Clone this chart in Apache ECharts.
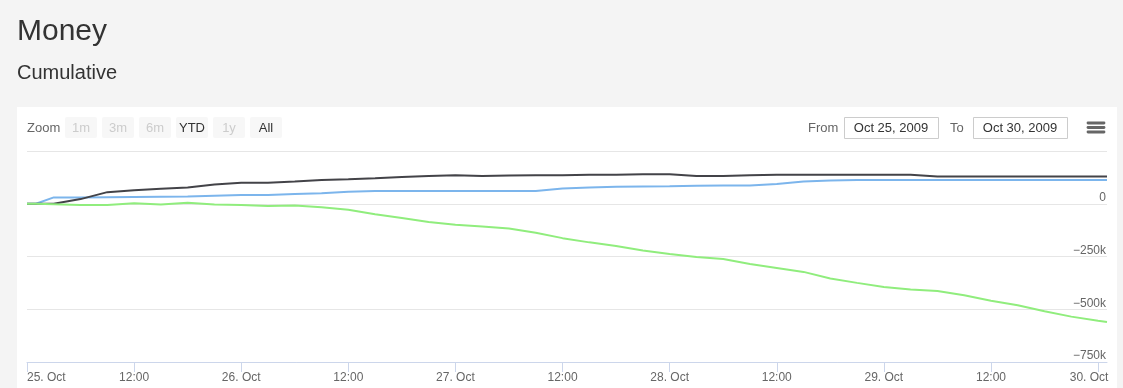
<!DOCTYPE html>
<html>
<head>
<meta charset="utf-8">
<script src="https://cdn.jsdelivr.net/npm/echarts@6/dist/echarts.min.js"></script>
<style>
html,body{margin:0;padding:0;background:#f4f4f4;}
#chart{width:1123px;height:388px;}
</style>
</head>
<body>
<div id="chart"></div>
<script>
// hours since 25 Oct 2009 00:00
const hours = [0,1,3,6,9,12,15,18,21,24,27,30,33,36,39,42,45,48,51,54,57,60,63,66,69,72,75,78,81,84,87,90,93,96,99,102,105,108,111,114,117,120,121];
const seriesBlue = [0,0,30000,30000,31000,32000,33000,34000,38000,41000,42000,46000,50000,57000,61000,60000,61000,61000,61000,61000,61000,72000,77000,80000,82000,83000,85000,86000,87000,94000,105000,110000,112000,112000,112000,112000,112000,113000,113000,113000,113000,113000,113000];
const seriesBlack = [0,0,0,22000,55000,64000,71000,77000,91000,99000,100000,105000,113000,116000,121000,127000,132000,135000,131000,134000,135000,135000,137000,138000,140000,140000,131000,132000,135000,137000,137000,137000,137000,137000,137000,129000,129000,129000,129000,129000,129000,129000,129000];
const seriesGreen = [0,0,-2000,-6000,-6000,2000,-3000,5000,-3000,-6000,-11000,-8000,-17000,-28000,-50000,-68000,-87000,-99000,-108000,-117000,-137000,-163000,-183000,-200000,-222000,-238000,-252000,-262000,-286000,-304000,-323000,-354000,-375000,-395000,-406000,-414000,-434000,-460000,-481000,-509000,-535000,-554000,-560000];
const xTickHours = [0,12,24,36,48,60,72,84,96,108,120];
const yTicks = [-750000,-500000,-250000,0,250000];
const zoomButtons = ['1m','3m','6m','YTD','1y','All'];
const zoomEnabled = [false,false,false,true,false,true];
const fromText = 'Oct 25, 2009';
const toText = 'Oct 30, 2009';

function pairs(vals){ return hours.map((h,i)=>[h, vals[i]]); }

const FONT = '"Liberation Sans", Arial, sans-serif';
const graphics = [];
graphics.push({type:'rect', z:-10, shape:{x:17,y:107,width:1100,height:290}, style:{fill:'#ffffff'}});
graphics.push({type:'text', x:17, y:32, style:{text:'Money', font:'30px '+FONT, fill:'#333333', textAlign:'left', align:'left', textVerticalAlign:'middle', verticalAlign:'middle'}});
graphics.push({type:'text', x:17, y:73, style:{text:'Cumulative', font:'20px '+FONT, fill:'#333333', textAlign:'left', align:'left', textVerticalAlign:'middle', verticalAlign:'middle'}});
graphics.push({type:'text', x:27, y:128, style:{text:'Zoom', font:'13px '+FONT, fill:'#666666', textAlign:'left', align:'left', textVerticalAlign:'middle', verticalAlign:'middle'}});
zoomButtons.forEach((b,i)=>{
  const x = 65 + i*37;
  graphics.push({type:'rect', shape:{x:x,y:117,width:32,height:21,r:2}, style:{fill:'#f7f7f7'}});
  graphics.push({type:'text', x:x+16, y:128, style:{text:b, font:'13px '+FONT, fill: zoomEnabled[i] ? '#333333' : '#cccccc', textAlign:'center', align:'center', textVerticalAlign:'middle', verticalAlign:'middle'}});
});
graphics.push({type:'text', x:808, y:128, style:{text:'From', font:'13px '+FONT, fill:'#666666', textAlign:'left', align:'left', textVerticalAlign:'middle', verticalAlign:'middle'}});
graphics.push({type:'rect', shape:{x:844.5,y:117.5,width:94,height:21}, style:{fill:'#ffffff', stroke:'#cccccc', lineWidth:1}});
graphics.push({type:'text', x:891, y:128, style:{text:fromText, font:'13px '+FONT, fill:'#333333', textAlign:'center', align:'center', textVerticalAlign:'middle', verticalAlign:'middle'}});
graphics.push({type:'text', x:950, y:128, style:{text:'To', font:'13px '+FONT, fill:'#666666', textAlign:'left', align:'left', textVerticalAlign:'middle', verticalAlign:'middle'}});
graphics.push({type:'rect', shape:{x:973.5,y:117.5,width:94,height:21}, style:{fill:'#ffffff', stroke:'#cccccc', lineWidth:1}});
graphics.push({type:'text', x:1020, y:128, style:{text:toText, font:'13px '+FONT, fill:'#333333', textAlign:'center', align:'center', textVerticalAlign:'middle', verticalAlign:'middle'}});
[123,127.5,132].forEach(yy=>{
  graphics.push({type:'line', shape:{x1:1088,y1:yy,x2:1104,y2:yy}, style:{stroke:'#666666', lineWidth:2.8, lineCap:'round'}});
});

const chart = echarts.init(document.getElementById('chart'), null, {renderer:'canvas'});
chart.setOption({
  backgroundColor:'#f4f4f4',
  animation:false,
  textStyle:{fontFamily:FONT},
  graphic: graphics,
  grid:{left:27, right:16, top:151, bottom:26, containLabel:false},
  xAxis:{
    type:'value', min:0, max:121,
    axisLine:{show:true, onZero:false, lineStyle:{color:'#ccd6eb', width:1}},
    axisTick:{show:true, length:10, lineStyle:{color:'#ccd6eb'}, customValues: xTickHours},
    splitLine:{show:false},
    axisLabel:{
      customValues: xTickHours,
      color:'#666666', fontSize:12, fontFamily:FONT, margin:10,
      alignMinLabel:'left',
      formatter:function(v){
        let s = (v % 24 === 0) ? (25 + v/24) + '. Oct' : '12:00';
        if (v === 120) return '{last|' + s + '}';
        return s;
      },
      rich:{ last:{ padding:[0,18,0,0], color:'#666666', fontSize:12, fontFamily:FONT } }
    }
  },
  yAxis:{
    type:'value', position:'right', min:-750000, max:250000, interval:250000,
    axisLine:{show:false}, axisTick:{show:false},
    splitLine:{show:true, lineStyle:{color:'#e6e6e6', width:1}},
    axisLabel:{
      inside:true, margin:1, color:'#666666', fontSize:12, fontFamily:FONT,
      verticalAlign:'bottom', showMaxLabel:false,
      formatter:function(v){ return v === 0 ? '0' : (v/1000).toString().replace('-', '\u2212') + 'k'; }
    }
  },
  series:[
    {type:'line', data:pairs(seriesBlue), showSymbol:false, lineStyle:{color:'#7cb5ec', width:2}, itemStyle:{color:'#7cb5ec'}, z:2},
    {type:'line', data:pairs(seriesBlack), showSymbol:false, lineStyle:{color:'#434348', width:2}, itemStyle:{color:'#434348'}, z:3},
    {type:'line', data:pairs(seriesGreen), showSymbol:false, lineStyle:{color:'#90ed7d', width:2}, itemStyle:{color:'#90ed7d'}, z:4}
  ]
});
</script>
</body>
</html>
